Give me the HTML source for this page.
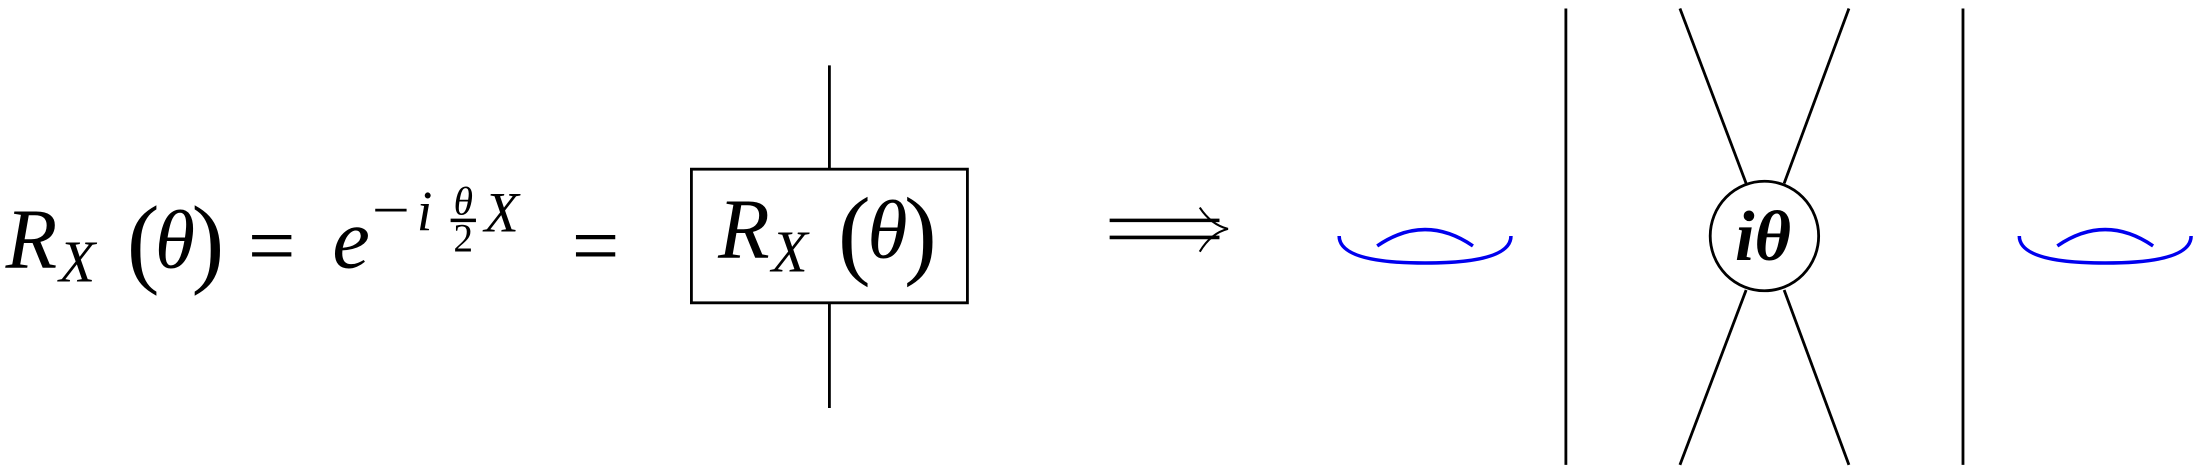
<!DOCTYPE html>
<html><head><meta charset="utf-8"><style>
html,body{margin:0;padding:0;background:#fff;}
svg{display:block;}
text{font-family:"Liberation Serif",serif;fill:#000;}
</style></head><body>
<svg width="2208" height="472" viewBox="0 0 1568 332" preserveAspectRatio="none" xmlns="http://www.w3.org/2000/svg">
 <g>
  <text x="4" y="188" font-size="60" font-style="italic">R</text>
  <text x="42" y="198" font-size="42" font-style="italic">X</text>
  <text x="90" y="193" font-size="70">(</text>
  <text x="110" y="188" font-size="58" font-style="italic">θ</text>
  <text x="136" y="193" font-size="70">)</text>
  <text x="176" y="193" font-size="60">=</text>
  <text x="236" y="188" font-size="60" font-style="italic">e</text>
  <text x="264" y="161" font-size="40" textLength="27" lengthAdjust="spacingAndGlyphs">−</text>
  <text x="296" y="162" font-size="40" font-style="italic">i</text>
  <text x="329" y="151" font-size="28" font-style="italic" text-anchor="middle">θ</text>
  <line x1="320" y1="155" x2="338" y2="155" stroke="#000" stroke-width="2.5"/>
  <text x="329" y="177" font-size="28" text-anchor="middle">2</text>
  <text x="344" y="163" font-size="40" font-style="italic">X</text>
  <text x="406" y="193" font-size="60">=</text>
 </g>
 <line x1="589" y1="46" x2="589" y2="119" stroke="#000" stroke-width="2"/>
 <line x1="589" y1="213" x2="589" y2="287" stroke="#000" stroke-width="2"/>
 <rect x="491" y="119" width="196" height="94" fill="none" stroke="#000" stroke-width="2"/>
 <g>
  <text x="510" y="181" font-size="60" font-style="italic">R</text>
  <text x="548" y="191" font-size="42" font-style="italic">X</text>
  <text x="595" y="187" font-size="70">(</text>
  <text x="616" y="181" font-size="58" font-style="italic">θ</text>
  <text x="642" y="187" font-size="70">)</text>
 </g>
 <g stroke="#000" fill="none" stroke-width="2.5">
  <line x1="788" y1="155" x2="866" y2="155"/>
  <line x1="788" y1="167" x2="866" y2="167"/>
  <path d="M852,146 Q860,158 872,161 Q860,164 852,177" stroke-width="1.5"/>
 </g>
 <g stroke="#0000ee" fill="none" stroke-width="2.5">
  <path d="M951,166 Q951,185 1012,185 Q1073,185 1073,166"/>
  <path d="M978,173 Q1012,150 1046,173"/>
 </g>
 <line x1="1112" y1="6" x2="1112" y2="327" stroke="#000" stroke-width="2"/>
 <g stroke="#000" stroke-width="2">
  <line x1="1193" y1="6" x2="1240" y2="129"/>
  <line x1="1313" y1="6" x2="1267" y2="129"/>
  <line x1="1240" y1="204" x2="1193" y2="327"/>
  <line x1="1267" y1="204" x2="1313" y2="327"/>
  <circle cx="1253" cy="166" r="38.5" fill="#fff"/>
 </g>
 <text x="1252" y="183" font-size="50" font-style="italic" font-weight="bold" text-anchor="middle">iθ</text>
 <line x1="1394" y1="6" x2="1394" y2="327" stroke="#000" stroke-width="2"/>
 <g stroke="#0000ee" fill="none" stroke-width="2.5">
  <path d="M1434,166 Q1434,185 1495,185 Q1556,185 1556,166"/>
  <path d="M1461,173 Q1495,150 1529,173"/>
 </g>
</svg>
</body></html>
